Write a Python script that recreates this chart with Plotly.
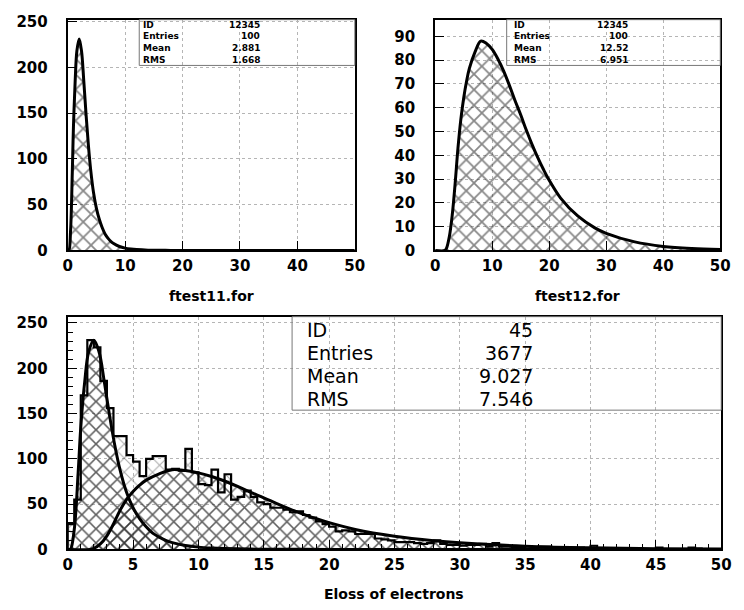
import numpy as np
import plotly.graph_objects as go

# ---------------- data ----------------
# fitted function 1 (ftest11.for)
f1_x = [0, 0.2, 0.5, 0.8, 1.0, 1.3, 1.6, 2.0, 2.4, 2.8, 3.2, 3.6, 4.0, 4.5, 5.0, 5.5,
        6.0, 6.5, 7.0, 7.5, 8.0, 9.0, 10, 11, 12, 14, 17, 20, 30, 50]
f1_y = [0, 0, 22, 85, 135, 185, 218, 231, 218, 185, 148, 115, 88, 63, 46, 34,
        25, 18, 13.5, 10, 7.5, 4.3, 2.5, 1.5, 0.9, 0.3, 0.1, 0, 0, 0]

# fitted function 2 (ftest12.for)
f2_x = [0, 1.7, 2.0, 2.5, 3.0, 3.5, 4.0, 4.5, 5.0, 5.5, 6.0, 7.0, 8.0, 9.0, 10, 11, 12,
        13, 14, 15, 16, 17, 18, 19, 20, 22, 25, 28, 30, 35, 40, 45, 50]
f2_y = [0, 0, 1, 6, 15, 28, 43, 55, 64, 71, 76.5, 83.5, 88, 87, 84.5, 80.5, 75.5,
        69.5, 63, 57, 50.5, 44.5, 39, 34, 29.5, 22, 14.5, 9.5, 7.2, 3.6, 1.7, 0.8, 0.4]

# histogram of Eloss of electrons (100 bins, 0..50)
bin_width = 0.5
counts = [
    28, 55, 170, 231, 223, 186, 156, 125, 125, 104,
    97, 81, 100, 103, 103, 88, 89, 87, 111, 85,
    72, 71, 88, 63, 83, 55, 58, 65, 58, 52,
    50, 46, 46, 44, 41, 42, 38, 35, 31, 28,
    25, 20, 21, 20, 17, 17, 17, 12, 11, 10,
    8, 8, 8, 7, 6, 7, 10, 6, 5, 5,
    4, 5, 5, 6, 3, 7, 3, 3, 2, 2,
    1, 1, 3, 3, 2, 2, 1, 2, 2, 1,
    4, 1, 1, 0, 1, 1, 0, 1, 0, 0,
    2, 0, 0, 0, 0, 2, 1, 0, 0, 0]

stat_labels = ["ID", "Entries", "Mean", "RMS"]
stats1 = ["12345", "100", "2.881", "1.668"]
stats2 = ["12345", "100", "12.52", "6.951"]
stats3 = ["45", "3677", "9.027", "7.546"]

titles = ["ftest11.for", "ftest12.for", "Eloss of electrons"]

# ---------------- figure ----------------
W, H = 744, 610
FONT = "DejaVu Sans"

def px(x):
    return x / W

def py(y):
    return 1 - y / H

def hatch(fg, size, sol):
    return dict(shape="x", size=size, solidity=sol, fgcolor=fg, bgcolor="rgba(0,0,0,0)")

fig = go.Figure()

def curve(xs, ys, ax, size=10):
    fig.add_trace(go.Scatter(
        x=xs, y=ys, mode="lines", line=dict(color="black", width=3, shape="spline", smoothing=1.0),
        fill="tozeroy", fillcolor="rgba(0,0,0,0)", fillpattern=hatch("#111", size, 0.3),
        xaxis=ax[0], yaxis=ax[1], hoverinfo="skip"))

curve(f1_x, f1_y, ("x", "y"), size=11)
curve(f2_x, f2_y, ("x2", "y2"), size=11)

edges = np.arange(len(counts) + 1) * bin_width
centers = edges[:-1] + bin_width / 2
fig.add_trace(go.Bar(
    x=centers, y=counts, width=bin_width, xaxis="x3", yaxis="y3",
    marker=dict(color="rgba(0,0,0,0)", pattern=hatch("#555", 10, 0.2), line=dict(width=0)),
    hoverinfo="skip"))
curve(f1_x, f1_y, ("x3", "y3"), size=10)
curve(f2_x, f2_y, ("x3", "y3"), size=10)
step_x = [0] + list(edges[:-1]) + [edges[-1], edges[-1]]
step_y = [0] + counts + [counts[-1], 0]
fig.add_trace(go.Scatter(x=step_x, y=step_y, mode="lines", line=dict(color="black", width=2.2, shape="hv"),
                         xaxis="x3", yaxis="y3", hoverinfo="skip"))

TICKFONT = dict(family=FONT, size=15, color="black", weight="bold")

def xax(domain, anchor, dtick, minor=None):
    d = dict(domain=domain, anchor=anchor, range=[0, 50], dtick=dtick, tick0=0,
             showline=True, mirror=True, linecolor="black", linewidth=2,
             showgrid=True, gridcolor="#b5b5b5", griddash="dot", gridwidth=1,
             ticks="inside", ticklen=9, tickcolor="black", tickwidth=1,
             tickfont=TICKFONT, ticklabelstandoff=1,
             zeroline=False, fixedrange=True)
    if minor:
        d["minor"] = dict(ticks="inside", ticklen=5, tickcolor="black", dtick=minor, showgrid=False)
    return d

def yax(domain, anchor, rng, dtick, minor=None):
    d = dict(domain=domain, anchor=anchor, range=rng, dtick=dtick, tick0=0,
             showline=True, mirror=True, linecolor="black", linewidth=2,
             showgrid=True, gridcolor="#b5b5b5", griddash="dot", gridwidth=1,
             ticks="inside", ticklen=9, tickcolor="black", tickwidth=1,
             tickfont=TICKFONT, ticklabelstandoff=15,
             zeroline=False, fixedrange=True)
    if minor:
        d["minor"] = dict(ticks="inside", ticklen=5, tickcolor="black", dtick=minor, showgrid=False)
    return d

top_dom = [py(250), py(13)]
bot_dom = [py(557), py(318)]

fig.update_layout(
    width=W, height=H, margin=dict(l=0, r=0, t=0, b=0),
    paper_bgcolor="white", plot_bgcolor="white", showlegend=False, bargap=0,
    xaxis=xax([px(64), px(357)], "y", 10),
    yaxis=yax(top_dom, "x", [0, 252], 50),
    xaxis2=xax([px(439), px(730)], "y2", 10),
    yaxis2=yax(top_dom, "x2", [0, 97], 10),
    xaxis3=xax([px(64), px(731)], "y3", 5, minor=1),
    yaxis3=yax(bot_dom, "x3", [0, 257], 50, minor=10),
)

shapes = []
annotations = []

def statbox(x0, x1, y0, y1, lx, vx, rows, vals, size, weight):
    shapes.append(dict(type="rect", xref="paper", yref="paper", x0=px(x0), x1=px(x1),
                       y0=py(y1), y1=py(y0), line=dict(color="#777", width=1),
                       fillcolor="rgba(0,0,0,0)", layer="above"))
    for lab, val, ry in zip(stat_labels, vals, rows):
        annotations.append(dict(xref="paper", yref="paper", x=px(lx), y=py(ry), text=lab,
                                showarrow=False, xanchor="left", yanchor="middle",
                                font=dict(family=FONT, size=size, color="black", weight=weight)))
        annotations.append(dict(xref="paper", yref="paper", x=px(vx), y=py(ry), text=val,
                                showarrow=False, xanchor="right", yanchor="middle",
                                font=dict(family=FONT, size=size, color="black", weight=weight)))

statbox(137, 357, 13, 60, 139, 262, [18, 30, 42, 54], stats1, 9, "bold")
statbox(512, 730, 13, 60, 517, 638, [18, 30, 42, 54], stats2, 9, "bold")
statbox(293, 731, 318, 414, 306, 541, [332, 355, 379, 403], stats3, 19, "normal")

for t, x, y in zip(titles, [210.5, 584.5, 397.5], [297, 297, 603]):
    annotations.append(dict(xref="paper", yref="paper", x=px(x), y=py(y), text=t, showarrow=False,
                            xanchor="center", yanchor="middle",
                            font=dict(family=FONT, size=14, color="black", weight="bold")))

fig.update_layout(shapes=shapes, annotations=annotations)
fig.write_html("out.html")
